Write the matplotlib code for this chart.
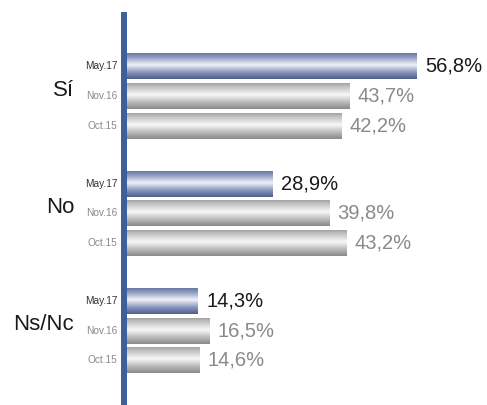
import numpy as np
import matplotlib
matplotlib.use('Agg')
import matplotlib.pyplot as plt
from matplotlib.colors import to_rgb

plt.rcParams['font.family'] = ['Liberation Sans', 'DejaVu Sans']

categories = ['Sí', 'No', 'Ns/Nc']
periods = ['May.17', 'Nov.16', 'Oct.15']
may17 = [56.8, 28.9, 14.3]
nov16 = [43.7, 39.8, 16.5]
oct15 = [42.2, 43.2, 14.6]
values = [may17, nov16, oct15]

group_step = 3.95
bar_h = 0.87

# cylinder-like shading for the bars
stops = [0, 0.15, 0.45, 0.75, 1]
blue_cols = ['#6a7aa4', '#8c9ac0', '#f0f2f8', '#8794bb', '#4f5f8c']
grey_cols = ['#a4a4a4', '#c4c4c4', '#f8f8f8', '#b8b8b8', '#8a8a8a']


def gradient(cols, n=64):
    t = np.linspace(0, 1, n)
    rgb = np.array([to_rgb(c) for c in cols])
    g = np.stack([np.interp(t, stops, rgb[:, k]) for k in range(3)], axis=-1)
    return g[:, None, :]


grad_blue = gradient(blue_cols)
grad_grey = gradient(grey_cols)

fig = plt.figure(figsize=(4.87, 4.05), dpi=100)
ax = fig.add_axes([124 / 487, 0, 1 - 124 / 487, 390 / 405])

for g, cat in enumerate(categories):
    for i, per in enumerate(periods):
        y = g * group_step + i
        v = values[i][g]
        img = grad_blue if i == 0 else grad_grey
        ax.imshow(img, extent=[0, v, y + bar_h / 2, y - bar_h / 2],
                  aspect='auto', origin='upper', interpolation='bilinear', zorder=1)
        col = '#1a1a1a' if i == 0 else '#8a8a8a'
        ax.annotate(f'{v:.1f}%'.replace('.', ','), (v, y), xytext=(6, 0),
                    textcoords='offset points', va='center', ha='left',
                    fontsize=14.5, color=col)
        dcol = '#333333' if i == 0 else '#8a8a8a'
        ax.annotate(per, (0, y), xytext=(-4.5, 0), textcoords='offset points',
                    va='center', ha='right', fontsize=7.3, color=dcol,
                    annotation_clip=False)
    ax.annotate(cat, (0, g * group_step + 0.8), xytext=(-36, 0),
                textcoords='offset points', va='center', ha='right',
                fontsize=16, color='#1a1a1a', annotation_clip=False)

ax.set_xlim(0, (487 - 124.5) / 5.145)
ax.set_ylim(11.40, -1.734)
ax.set_xticks([])
ax.set_yticks([])
for s in ['top', 'right', 'bottom']:
    ax.spines[s].set_visible(False)
ax.spines['left'].set_color('#3d5f9a')
ax.spines['left'].set_linewidth(4.3)
ax.patch.set_alpha(0)

fig.savefig('out.png', dpi=100)
